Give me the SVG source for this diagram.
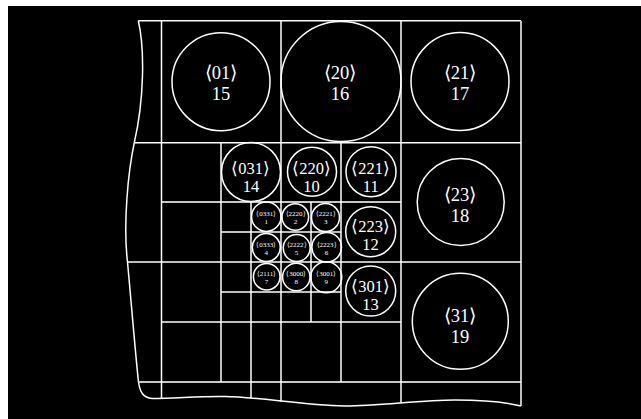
<svg xmlns="http://www.w3.org/2000/svg" width="641" height="419" viewBox="0 0 641 419">
<style>
.ln{stroke:#fff;stroke-width:1.5;fill:none}
.gr{stroke:#c8c8c8;stroke-width:1.8;fill:none}
.c{stroke:#fff;stroke-width:1.5;fill:none}
text{font-family:"Liberation Serif","Times New Roman",serif;fill:#fff;text-anchor:middle}
.b{font-size:18.5px}
.m{font-size:16.5px}
.s{font-size:7px}
</style>
<rect width="641" height="419" fill="#fff"/>
<rect x="8" y="6" width="633" height="413" fill="#000"/>
<g id="connectors">
<path class="ln" d="M138.3,20.7 C145,50 144,100 134.3,142.7 C128,172 123,225 127.5,262 C131,300 136,360 138.5,382 C140,392 143,398 152,398.5 C175,398.5 200,396 225,396.5 C260,397 300,405 345,406 C380,406 420,400 455,400 C485,400 505,402 521,406"/>
<line class="ln" x1="138.3" y1="20.7" x2="521" y2="20.7"/>
<line class="ln" x1="134.3" y1="142.7" x2="521" y2="142.7"/>
<line class="ln" x1="127.5" y1="262" x2="521" y2="262"/>
<line class="gr" x1="138.5" y1="382" x2="521" y2="382"/>
<line class="gr" x1="161.5" y1="202" x2="401" y2="202"/>
<line class="ln" x1="161.5" y1="322" x2="401" y2="322"/>
<line class="ln" x1="221" y1="232" x2="341" y2="232"/>
<line class="ln" x1="221" y1="292" x2="341" y2="292"/>
<line class="ln" x1="161.5" y1="20.7" x2="161.5" y2="399"/>
<line class="ln" x1="281" y1="20.7" x2="281" y2="401.7"/>
<line class="ln" x1="401" y1="20.7" x2="401" y2="402.7"/>
<line class="ln" x1="521" y1="20.7" x2="521" y2="406"/>
<line class="ln" x1="251" y1="202" x2="251" y2="398.3"/>
<line class="ln" x1="221" y1="142.7" x2="221" y2="382"/>
<line class="ln" x1="341" y1="142.7" x2="341" y2="382"/>
<line class="ln" x1="311" y1="202" x2="311" y2="322"/>
</g>
<g id="n15"><circle class="c" cx="221" cy="81.7" r="49"/><text class="b" x="221" y="78.5">⟨01⟩</text><text class="b" x="221" y="100">15</text></g>
<g id="n16"><circle class="c" cx="341" cy="81.5" r="60"/><text class="b" x="340" y="79">⟨20⟩</text><text class="b" x="340" y="100">16</text></g>
<g id="n17"><circle class="c" cx="460" cy="81.5" r="49"/><text class="b" x="460" y="79">⟨21⟩</text><text class="b" x="460" y="100">17</text></g>
<g id="n18"><circle class="c" cx="460.7" cy="202" r="43.5"/><text class="b" x="460" y="200.7">⟨23⟩</text><text class="b" x="460" y="221.7">18</text></g>
<g id="n19"><circle class="c" cx="460.3" cy="321.3" r="48"/><text class="b" x="460" y="322.3">⟨31⟩</text><text class="b" x="460" y="342.7">19</text></g>
<g id="n14"><circle class="c" cx="251" cy="172" r="29.5"/><text class="m" x="250.5" y="174">⟨031⟩</text><text class="m" x="251" y="192">14</text></g>
<g id="n10"><circle class="c" cx="312" cy="171.7" r="24.5"/><text class="m" x="311.5" y="174">⟨220⟩</text><text class="m" x="311.5" y="192">10</text></g>
<g id="n11"><circle class="c" cx="371" cy="171.7" r="25"/><text class="m" x="370.7" y="174.3">⟨221⟩</text><text class="m" x="370.7" y="192.3">11</text></g>
<g id="n12"><circle class="c" cx="370.7" cy="231.7" r="25"/><text class="m" x="370.5" y="231.7">⟨223⟩</text><text class="m" x="370.5" y="249.5">12</text></g>
<g id="n13"><circle class="c" cx="370.7" cy="291" r="25"/><text class="m" x="370.5" y="291.7">⟨301⟩</text><text class="m" x="370.5" y="309.5">13</text></g>
<g id="n1"><circle class="c" cx="266.3" cy="216.7" r="14.7"/><text class="s" x="266.2" y="216">⟨0331⟩</text><text class="s" x="266.2" y="224">1</text></g>
<g id="n2"><circle class="c" cx="295.3" cy="217" r="13.3"/><text class="s" x="295.5" y="216">⟨2220⟩</text><text class="s" x="295.5" y="224">2</text></g>
<g id="n3"><circle class="c" cx="325.5" cy="217.5" r="14"/><text class="s" x="325.8" y="216">⟨2221⟩</text><text class="s" x="325.8" y="224">3</text></g>
<g id="n4"><circle class="c" cx="266.3" cy="247.5" r="14"/><text class="s" x="266.3" y="247">⟨0333⟩</text><text class="s" x="266.3" y="255">4</text></g>
<g id="n5"><circle class="c" cx="296.7" cy="248" r="13.5"/><text class="s" x="296.5" y="247">⟨2222⟩</text><text class="s" x="296.5" y="255">5</text></g>
<g id="n6"><circle class="c" cx="326.7" cy="247.2" r="14.8"/><text class="s" x="326.5" y="247">⟨2223⟩</text><text class="s" x="326.5" y="255">6</text></g>
<g id="n7"><circle class="c" cx="266.7" cy="276.7" r="13.3"/><text class="s" x="266.5" y="275.5">⟨2111⟩</text><text class="s" x="266.5" y="283.5">7</text></g>
<g id="n8"><circle class="c" cx="296.3" cy="277" r="13.7"/><text class="s" x="296.3" y="275.5">⟨3000⟩</text><text class="s" x="296.3" y="283.5">8</text></g>
<g id="n9"><circle class="c" cx="326.3" cy="277.2" r="15.5"/><text class="s" x="326.3" y="275.5">⟨3001⟩</text><text class="s" x="326.3" y="283.5">9</text></g>
</svg>
